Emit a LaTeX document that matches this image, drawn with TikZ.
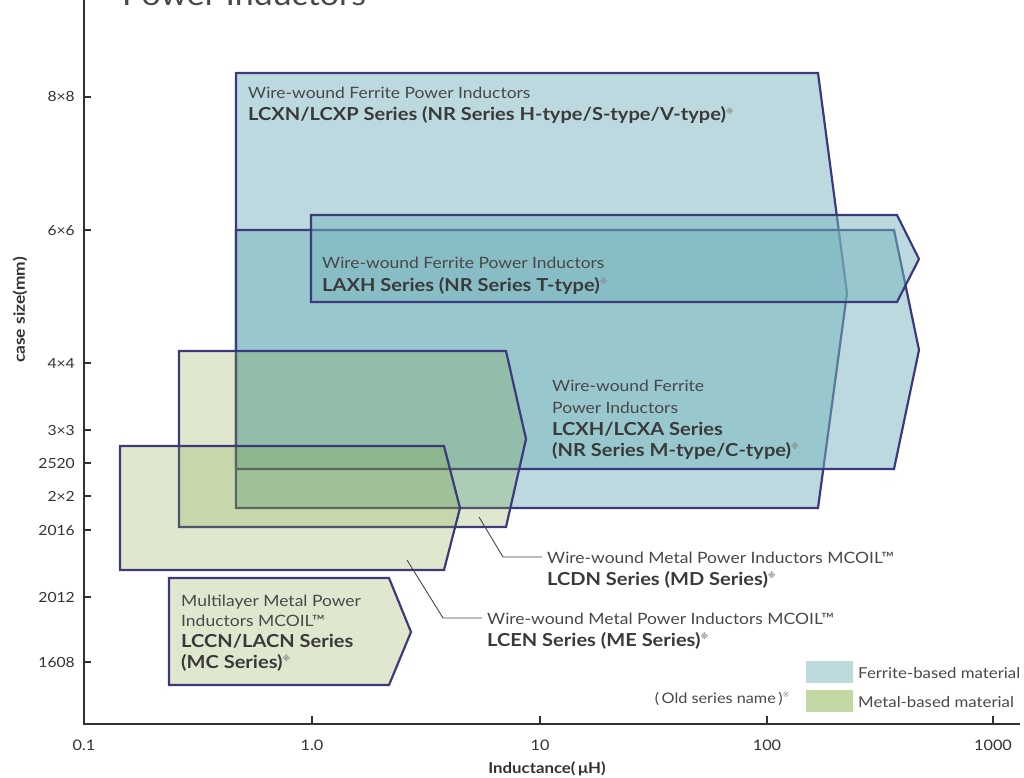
\documentclass[tikz,border=0pt]{standalone}
\usepackage{fontspec}
\setmainfont{Lato}[FakeStretch=1.12]
\newfontfamily\djv{DejaVu Sans}
\definecolor{navy}{RGB}{61,58,124}
\definecolor{ferr}{RGB}{119,180,190}
\definecolor{metl}{RGB}{127,163,63}
\definecolor{ferrleg}{RGB}{188,218,222}
\definecolor{metlleg}{RGB}{194,217,163}
\definecolor{txt}{RGB}{72,72,72}
\definecolor{txtb}{RGB}{58,58,58}
\definecolor{axisc}{RGB}{50,50,50}
\definecolor{komec}{RGB}{140,140,140}
\newcommand{\kome}{\textsuperscript{\djv\color{komec}\fontsize{8}{8}\selectfont※}}
\tikzset{
  ferrshape/.style={draw=navy, line width=2.2pt, fill=ferr, fill opacity=0.5},
  metlshape/.style={draw=navy, line width=2.2pt, fill=metl, fill opacity=0.25},
  reg/.style={anchor=base west, inner sep=0pt, text=txt, font=\fontsize{15.6}{18}\selectfont},
  bld/.style={anchor=base west, inner sep=0pt, text=txtb, font=\fontsize{17.9}{21}\selectfont\bfseries},
  ylab/.style={anchor=base east, inner sep=0pt, text=axisc, font=\fontsize{14}{16}\selectfont},
  xlab/.style={anchor=base, inner sep=0pt, text=axisc, font=\fontsize{14.5}{16}\selectfont},
  legtxt/.style={anchor=base west, inner sep=0pt, text=txt, font=\fontsize{15}{17}\selectfont},
  axisline/.style={draw=axisc, line width=1.3pt},
  leader/.style={draw=txt, line width=0.9pt},
}
\begin{document}
\begin{tikzpicture}[x=1pt,y=-1pt]
\useasboundingbox (0,0) rectangle (1024,778);
% title (cut off at top)
\node[anchor=base west, inner sep=0pt, text=txt, font=\fontsize{30.2}{34}\selectfont] (title) at (122,6) {Power Inductors};
% axes
\coordinate (ytop) at (84,0);
\coordinate (orig) at (84,724);
\coordinate (xend) at (1020,724);
\draw[axisline] (ytop) -- (orig) -- (xend);
% y ticks and labels
\foreach \yy/\lab/\nm in {97/8×8/a,230/6×6/b,363/4×4/c,430/3×3/d,463/2520/e,496/2×2/f,530/2016/g,597/2012/h,662/1608/i}{
  \draw[axisline] (84,\yy) -- (91,\yy);
  \node[ylab] (ylab\nm) at (75,\yy+5) {\lab};
}
% x ticks and labels
\foreach \xx in {312,540,767,993}{
  \draw[axisline] (\xx,724) -- (\xx,716);
}
\foreach \xx/\lab/\nm in {84/0.1/a,312/1.0/b,540/10/c,767/100/d,993/1000/e}{
  \node[xlab] (xlab\nm) at (\xx,750) {\lab};
}
\node[anchor=base, inner sep=0pt, text=axisc, font=\fontsize{15}{17}\selectfont\bfseries] (xtitle) at (547,773) {Inductance(\,μH)};
\node[rotate=90, inner sep=0pt, text=axisc, font=\fontsize{15.5}{17}\selectfont\bfseries] (ytitle) at (20,310) {case size(mm)};
% ferrite shapes
\path[ferrshape] (236,73) -- (818,73) -- (847,293) -- (818,508) -- (236,508) -- cycle;
\path[ferrshape] (236,230) -- (894,230) -- (919,350) -- (894,469) -- (236,469) -- cycle;
\path[ferrshape] (311,215) -- (897,215) -- (919,259) -- (897,302) -- (311,302) -- cycle;
% metal shapes
\path[metlshape] (179,351) -- (506,351) -- (526,439) -- (506,527) -- (179,527) -- cycle;
\path[metlshape] (120,446) -- (444,446) -- (460,508) -- (444,570) -- (120,570) -- cycle;
\path[metlshape] (169,578) -- (389,578) -- (411,632) -- (389,685) -- (169,685) -- cycle;
% texts in ferrite shapes
\node[reg] (lcxn1) at (248,99) {Wire-wound Ferrite Power Inductors};
\node[bld] (lcxn2) at (248,121) {LCXN/LCXP Series (NR Series H-type/S-type/V-type)\kome};
\node[reg] (laxh1) at (322,268) {Wire-wound Ferrite Power Inductors};
\node[bld] (laxh2) at (322,291) {LAXH Series (NR Series T-type)\kome};
\node[reg] (lcxh1) at (552,391) {Wire-wound Ferrite};
\node[reg] (lcxh2) at (552,413) {Power Inductors};
\node[bld] (lcxh3) at (552,435) {LCXH/LCXA Series};
\node[bld] (lcxh4) at (552,456) {(NR Series M-type/C-type)\kome};
% texts in metal shape
\node[reg] (lccn1) at (181,606) {Multilayer Metal Power};
\node[reg] (lccn2) at (181,626) {Inductors MCOIL™};
\node[bld] (lccn3) at (181,647) {LCCN/LACN Series};
\node[bld] (lccn4) at (181,668) {(MC Series)\kome};
% callouts
\node[reg] (lcdn1) at (547,563) {Wire-wound Metal Power Inductors MCOIL™};
\node[bld] (lcdn2) at (547,585) {LCDN Series (MD Series)\kome};
\node[reg] (lcen1) at (487,624) {Wire-wound Metal Power Inductors MCOIL™};
\node[bld] (lcen2) at (487,646) {LCEN Series (ME Series)\kome};
\coordinate (ldA) at (479,517);
\coordinate (ldAk) at (503,557);
\coordinate (ldB) at (407,560);
\coordinate (ldBk) at (443,618);
\draw[leader] (ldA) -- (ldAk) -- ([xshift=-5pt]ldAk -| lcdn1.west);
\draw[leader] (ldB) -- (ldBk) -- ([xshift=-5pt]ldBk -| lcen1.west);
% legend
\node[draw=none, fill=ferrleg, minimum width=47pt, minimum height=22pt, inner sep=0pt, anchor=north west] (legF) at (806,661) {};
\node[draw=none, fill=metlleg, minimum width=47pt, minimum height=22pt, inner sep=0pt, anchor=north west] (legM) at (806,690) {};
\node[legtxt] (legFt) at (858,678) {Ferrite-based material};
\node[legtxt] (legMt) at (858,707) {Metal-based material};
\node[anchor=base east, inner sep=0pt, text=txt, font=\fontsize{14.5}{16}\selectfont] (oldname) at (790,703) {(\,Old series name\,)\kome};
\end{tikzpicture}
\end{document}
